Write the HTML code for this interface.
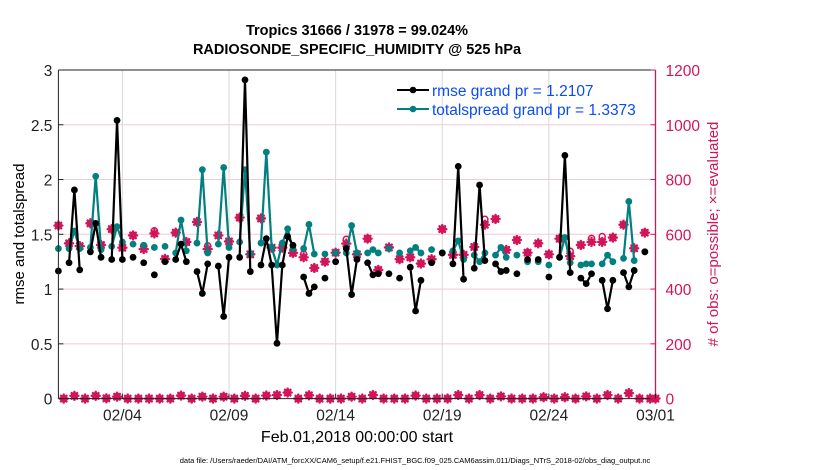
<!DOCTYPE html>
<html><head><meta charset="utf-8"><style>
body{margin:0;background:#fff;}
svg{display:block;font-family:"Liberation Sans",Arial,sans-serif;}
</style></head><body>
<svg id="chart" width="830" height="470" viewBox="0 0 830 470" xmlns="http://www.w3.org/2000/svg">
<g id="grid"></g>
<g id="marks"></g>
<g id="axes"></g>
<text x="357" y="35" text-anchor="middle" font-size="14.5" font-weight="bold">Tropics 31666 / 31978 = 99.024%</text>
<text x="357" y="54" text-anchor="middle" font-size="14.5" font-weight="bold">RADIOSONDE_SPECIFIC_HUMIDITY @ 525 hPa</text>
<text transform="translate(24,234) rotate(-90)" text-anchor="middle" font-size="15">rmse and totalspread</text>
<text transform="translate(718,234) rotate(-90)" text-anchor="middle" font-size="15" fill="#d4145a"># of obs: o=possible; ×=evaluated</text>
<text x="357" y="442" text-anchor="middle" font-size="16">Feb.01,2018 00:00:00 start</text>
<text x="415" y="463" text-anchor="middle" font-size="7.5">data file: /Users/raeder/DAI/ATM_forcXX/CAM6_setup/f.e21.FHIST_BGC.f09_025.CAM6assim.011/Diags_NTrS_2018-02/obs_diag_output.nc</text>
<g>
<g>
<line x1="397" y1="90" x2="429" y2="90" stroke="#000" stroke-width="2"/><circle cx="413" cy="90" r="3.3" fill="#000"/>
<text x="432" y="96" font-size="15.5" fill="#0b4cf5">rmse grand pr = 1.2107</text></g>
<g>
<line x1="397" y1="109" x2="429" y2="109" stroke="#00807f" stroke-width="2"/><circle cx="413" cy="109" r="3.3" fill="#00807f"/>
<text x="432" y="115" font-size="15.5" fill="#0b4cf5">totalspread grand pr = 1.3373</text></g>
</g>
</svg>
<script>
// data: time in 6-hour steps from Feb 01 00Z
const qTimes=[0,2,3,4,6,7,8,10,11,12,14,16,18,20,22,23,24,26,27,28,30,31,32,34,35,36,38,39,40,41,42,43,44,46,47,48,50,52,54,55,56,58,59,60,62,64,66,67,68,70,72,74,75,76,78,79,80,82,83,84,86,88,90,92,94,95,96,98,99,100,102,103,104,106,107,108,110];
const rmse=[1.165,1.24,1.905,1.175,1.34,1.60,1.29,1.27,2.54,1.27,1.29,1.24,1.13,1.25,1.27,1.41,1.25,1.16,0.96,1.23,1.21,0.75,1.29,1.29,2.91,1.16,1.22,1.46,1.22,0.505,1.22,1.48,1.40,1.11,0.96,1.02,1.10,1.25,1.37,0.95,1.27,1.24,1.13,1.14,1.14,1.10,1.20,0.80,1.08,1.24,1.33,1.23,2.12,1.09,1.19,1.95,1.26,1.23,1.16,1.17,1.14,1.27,1.27,1.11,1.29,2.22,1.15,1.10,1.05,1.14,1.08,0.82,1.08,1.15,1.02,1.17,1.34];
const spread=[1.37,1.37,1.53,1.37,1.38,2.03,1.36,1.39,1.57,1.43,1.41,1.40,1.38,1.39,1.33,1.63,1.35,1.42,2.09,1.33,1.41,2.11,1.38,1.43,2.09,1.32,1.42,2.25,1.38,1.22,1.42,1.55,1.37,1.37,1.59,1.32,1.32,1.33,1.33,1.58,1.33,1.33,1.36,1.33,1.37,1.33,1.35,1.38,1.33,1.36,1.33,1.35,1.44,1.27,1.31,1.25,1.33,1.31,1.38,1.29,1.31,1.25,1.25,1.22,1.29,1.47,1.24,1.22,1.23,1.23,1.23,1.31,1.25,1.28,1.80,1.26,1.34];
const evalTimes=[0,2,4,6,8,10,12,14,16,18,20,22,24,26,28,30,32,34,36,38,40,42,44,46,48,50,52,54,56,58,60,62,64,66,68,70,72,74,76,78,80,82,84,86,88,90,92,94,96,98,100,102,104,106,108,110];
const evaluated=[632,567,557,640,561,619,551,596,546,603,510,606,572,645,546,596,574,661,527,658,551,551,532,516,477,500,533,566,527,584,470,552,509,516,493,509,619,525,525,554,635,656,543,579,533,567,527,584,520,561,572,572,588,635,549,606];
const possible=[632,567,557,640,561,619,551,596,558,613,510,606,572,645,558,596,574,661,527,658,551,551,532,528,477,500,533,582,527,584,470,552,509,516,493,509,619,525,525,554,655,656,543,579,533,567,527,584,538,561,585,592,588,635,549,606];
const lowTimes=[1,3,5,7,9,11,13,15,17,19,21,23,25,27,29,31,33,35,37,39,41,43,45,47,49,51,53,55,57,59,61,63,65,67,69,71,73,75,77,79,81,83,85,87,89,91,93,95,97,99,101,103,105,107,109,111,112];
const lowCounts=[0,10,0,10,1,7,0,0,0,0,0,11,0,7,0,7,0,10,0,11,13,22,0,12,0,0,0,7,0,13,0,0,0,11,0,0,0,13,0,13,0,8,0,0,0,5,0,5,0,8,0,13,0,20,0,0,0];
const xTickLabels=["02/04","02/09","02/14","02/19","02/24","03/01"];
const xTickDays=[3,8,13,18,23,28];
const yTicks=[0,0.5,1,1.5,2,2.5,3];
const yTickLabels=["0","0.5","1","1.5","2","2.5","3"];
const rTicks=[0,200,400,600,800,1000,1200];

const X0=58.4,X1=655.5,Y0=398.6,Y1=70;
const xs=d=>X0+(d/28)*(X1-X0);
const xq=q=>xs(q/4);
const yl=v=>Y0-(v/3)*(Y0-Y1);
const yr=c=>Y0-(c/1200)*(Y0-Y1);
const NS="http://www.w3.org/2000/svg";
function mk(tag,attrs,parent){const e=document.createElementNS(NS,tag);for(const k in attrs)e.setAttribute(k,attrs[k]);parent.appendChild(e);return e;}
const grid=document.getElementById('grid'),marks=document.getElementById('marks'),axes=document.getElementById('axes');
const RED="#d4145a",TEAL="#00807f";

xTickDays.forEach((d,i)=>{const l=mk('line',{x1:xs(d),x2:xs(d),y1:Y1,y2:Y0,stroke:'#d8d8d8','stroke-width':1},grid);

});
yTicks.forEach(v=>{if(v===0||v===3)return;const l=mk('line',{x1:X0,x2:X1,y1:yl(v),y2:yl(v),stroke:'#f3c8d8','stroke-width':1},grid);

});

function drawSeries(vals,color,name){
  let segs=[],cur=[];
  qTimes.forEach((q,i)=>{if(i>0&&q-qTimes[i-1]!==1){segs.push(cur);cur=[];}cur.push([xq(q),yl(vals[i])]);});
  segs.push(cur);
  segs.forEach(s=>{if(s.length>1){const p=mk('polyline',{points:s.map(a=>a.join(',')).join(' '),fill:'none',stroke:color,'stroke-width':2.2},marks);
  
  }});
  qTimes.forEach((q,i)=>{const c=mk('circle',{cx:xq(q),cy:yl(vals[i]),r:3.4,fill:color},marks);
  
  });
}
function star(x,y,name){
  const g=mk('g',{stroke:RED,'stroke-width':2.4,'stroke-linecap':'round'},marks);
  
  
  mk('line',{x1:x-4,x2:x+4,y1:y,y2:y},g);mk('line',{x1:x,x2:x,y1:y-4,y2:y+4},g);
  mk('line',{x1:x-2.8,x2:x+2.8,y1:y-2.8,y2:y+2.8},g);mk('line',{x1:x-2.8,x2:x+2.8,y1:y+2.8,y2:y-2.8},g);
}
evalTimes.forEach((q,i)=>{const c=mk('circle',{cx:xq(q),cy:yr(possible[i]),r:3,fill:'none',stroke:RED,'stroke-width':1.5},marks);

});
evalTimes.forEach((q,i)=>star(xq(q),yr(evaluated[i]),'evaluated-marker'));
lowTimes.forEach((q,i)=>{const c=mk('circle',{cx:xq(q),cy:yr(lowCounts[i]),r:3,fill:'none',stroke:RED,'stroke-width':1.5},marks);


star(xq(q),yr(lowCounts[i]),'low-evaluated-marker');});
drawSeries(spread,TEAL,'totalspread');
drawSeries(rmse,'#000','rmse');

let a;
a=mk('line',{x1:X0,x2:X1,y1:Y0,y2:Y0,stroke:'#222','stroke-width':1},axes);
a=mk('line',{x1:X0,x2:X1,y1:Y1,y2:Y1,stroke:'#222','stroke-width':1},axes);
a=mk('line',{x1:X0,x2:X0,y1:Y1,y2:Y0,stroke:'#222','stroke-width':1},axes);
a=mk('line',{x1:X1,x2:X1,y1:Y1,y2:Y0,stroke:RED,'stroke-width':1.3},axes);
xTickDays.forEach((d,i)=>{mk('line',{x1:xs(d),x2:xs(d),y1:Y0,y2:Y0-5,stroke:'#222'},axes);
const t=mk('text',{x:xs(d),y:Y0+22,'text-anchor':'middle','font-size':15.5,fill:'#222'},axes);t.textContent=xTickLabels[i];

});
yTicks.forEach((v,i)=>{mk('line',{x1:X0,x2:X0+5,y1:yl(v),y2:yl(v),stroke:'#222'},axes);
const t=mk('text',{x:X0-6,y:yl(v)+6,'text-anchor':'end','font-size':15.5,fill:'#222'},axes);t.textContent=yTickLabels[i];

});
rTicks.forEach(c=>{mk('line',{x1:X1,x2:X1-5,y1:yr(c),y2:yr(c),stroke:RED},axes);
const t=mk('text',{x:X1+10,y:yr(c)+6,'font-size':15.5,fill:RED},axes);t.textContent=String(c);

});
</script>
</body></html>
